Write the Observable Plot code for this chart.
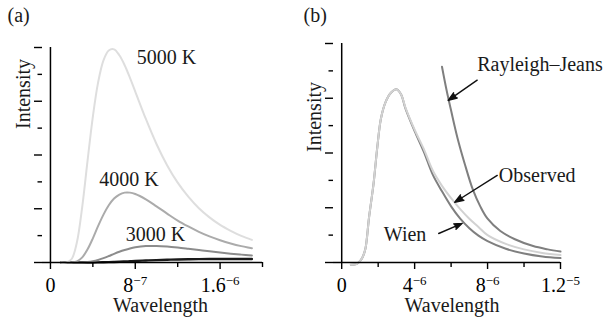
<!DOCTYPE html>
<html>
<head>
<meta charset="utf-8">
<script src="https://cdn.jsdelivr.net/npm/d3@7"></script>
<script src="https://cdn.jsdelivr.net/npm/@observablehq/plot@0.6"></script>
<style>
  html, body { margin: 0; padding: 0; background: #fff; }
  #c { display: flex; width: 609px; height: 321px; overflow: hidden; }
  #c svg { overflow: visible; }
  #c svg text { font-family: "Times New Roman", "Liberation Serif", "DejaVu Serif", "Noto Serif", Times, serif !important; }
</style>
</head>
<body>
<div id="c"></div>
<script>
// ---------- Panel (a): blackbody curves (wavelength in micrometres) ----------
const lambdaA = [0.1,0.15,0.2,0.25,0.3,0.35,0.4,0.45,0.5,0.55,0.6,0.65,0.7,0.75,0.8,0.9,1.0,1.1,1.2,1.3,1.4,1.5,1.6,1.7,1.8,1.9];
const i5000 = [0,0.005,0.13,0.76,2.08,3.79,5.43,6.71,7.52,7.89,7.93,7.71,7.34,6.87,6.36,5.34,4.41,3.62,2.97,2.45,2.02,1.68,1.40,1.18,0.99,0.84];
const i4000 = [0,0,0.004,0.043,0.19,0.49,0.90,1.36,1.78,2.13,2.38,2.53,2.60,2.60,2.55,2.35,2.09,1.82,1.56,1.34,1.14,0.97,0.83,0.71,0.61,0.53];
const i3000 = [0,0,0,0,0.003,0.016,0.045,0.094,0.162,0.24,0.323,0.40,0.466,0.522,0.564,0.611,0.617,0.595,0.557,0.511,0.463,0.415,0.371,0.330,0.293,0.259];
const iCool = [0,0,0,0,0,0,0.002,0.004,0.008,0.013,0.02,0.028,0.037,0.047,0.057,0.075,0.09,0.103,0.113,0.12,0.125,0.128,0.13,0.131,0.131,0.13];

const curveLabelsA = ["5000 K", "4000 K", "3000 K"];
const curveLabelXA = [1.094, 0.741, 0.991];
const curveLabelYA = [7.40, 2.86, 0.80];

const majorTicksA = [0, 0.8, 1.6];
const majorLabelsA = ["0", "8^−7", "1.6^−6"];
const minorTicksA = [0.4, 1.2, 2.0];

// ---------- Panel (b): observed vs. Wien vs. Rayleigh–Jeans ----------
const lambdaB = [0.5,0.8,1.0,1.15,1.3,1.5,1.75,1.95,2.15,2.4,2.7,3.0,3.25,3.5,4.0,4.5,5.0,5.5,6.0,6.5,7.0,7.5,8.0,9.0,10.0,11.0,12.0];
const observed = [-0.08,-0.06,0.05,0.2,0.5,1.65,2.9,4.2,5.25,5.85,6.2,6.33,6.15,5.65,4.85,4.15,3.35,2.8,2.35,1.95,1.6,1.3,1.0,0.68,0.48,0.35,0.27];
const wien = [-0.08,-0.06,0.05,0.2,0.5,1.65,2.9,4.2,5.25,5.85,6.2,6.33,6.15,5.62,4.8,4.05,3.2,2.6,2.05,1.6,1.25,0.98,0.78,0.5,0.33,0.22,0.16];
const lambdaRJ = [5.5,5.75,6.0,6.35,6.75,7.2,7.6,8.0,8.7,9.5,10.5,11.3,12.0];
const rayleighJeans = [7.15,6.3,5.55,4.55,3.6,2.65,2.05,1.6,1.15,0.85,0.6,0.48,0.4];

const curveLabelsB = ["Rayleigh–Jeans", "Observed", "Wien"];
const curveLabelXB = [7.43, 8.62, 2.31];
const curveLabelYB = [6.99, 2.93, 0.77];

const arrowX1 = [7.43, 8.53, 5.32];
const arrowY1 = [6.66, 3.18, 1.06];
const arrowX2 = [5.84, 6.2, 6.61];
const arrowY2 = [5.92, 2.2, 1.43];

const majorTicksB = [0, 4, 8, 12];
const majorLabelsB = ["0", "4^−6", "8^−6", "1.2^−5"];
const minorTicksB = [2, 6, 10];

const yMajor = [0, 2, 4, 6, 8];
const yMinor = [1, 3, 5, 7];

const FONT = "Times New Roman, Liberation Serif, DejaVu Serif, serif";

function axisMarks(majorTicks, majorLabels, minorTicks) {
  return [
    Plot.axisX(majorTicks, {tickSize: 7, tickPadding: 8, strokeWidth: 1.4, label: null,
      tickFormat: d => majorLabels[majorTicks.indexOf(d)], fontSize: 20, fontFamily: FONT}),
    Plot.axisX(minorTicks, {tickSize: 5, strokeWidth: 1.4, label: null, tickFormat: () => ""}),
    Plot.axisY(yMajor, {tickSize: 8, strokeWidth: 1.4, label: null, tickFormat: () => ""}),
    Plot.axisY(yMinor, {tickSize: 4.5, strokeWidth: 1.4, label: null, tickFormat: () => ""}),
    Plot.ruleY([0], {strokeWidth: 1.5}),
    Plot.ruleX([0], {strokeWidth: 1.5})
  ];
}

const txt = {fontSize: 20, fontFamily: FONT, lineAnchor: "bottom", fill: "#1a1a1a"};

const panelA = Plot.plot({
  width: 300, height: 321,
  marginLeft: 42, marginRight: 38, marginTop: 47, marginBottom: 59,
  x: {domain: [-0.075, 2.0], axis: null},
  y: {domain: [0, 8], axis: null},
  style: {fontFamily: FONT, fontSize: "20px", background: "white", color: "black", overflow: "visible"},
  marks: [
    Plot.lineY(iCool, {x: lambdaA, stroke: "#1a1a1a", strokeWidth: 2.4, curve: "catmull-rom"}),
    Plot.lineY(i3000, {x: lambdaA, stroke: "#8c8c8c", strokeWidth: 2, curve: "catmull-rom"}),
    Plot.lineY(i4000, {x: lambdaA, stroke: "#ababab", strokeWidth: 2, curve: "catmull-rom"}),
    Plot.lineY(i5000, {x: lambdaA, stroke: "#dedede", strokeWidth: 2, curve: "catmull-rom"}),
    ...axisMarks(majorTicksA, majorLabelsA, minorTicksA),
    Plot.text(curveLabelsA, {x: curveLabelXA, y: curveLabelYA, text: d => d, ...txt}),
    Plot.text(["Intensity"], {frameAnchor: "left", rotate: -90, dx: -12.5, dy: -26, ...txt}),
    Plot.text(["Wavelength"], {frameAnchor: "bottom", dx: 8, dy: 49, ...txt}),
    Plot.text(["(a)"], {frameAnchor: "top-left", dx: -35, dy: -26, textAnchor: "start", ...txt})
  ]
});

const panelB = Plot.plot({
  width: 309, height: 321,
  marginLeft: 33, marginRight: 49, marginTop: 43, marginBottom: 59,
  x: {domain: [-0.45, 12], axis: null},
  y: {domain: [0, 8], axis: null},
  style: {fontFamily: FONT, fontSize: "20px", background: "white", color: "black", overflow: "visible"},
  marks: [
    Plot.lineY(wien, {x: lambdaB, stroke: "#7f7f7f", strokeWidth: 2, curve: "catmull-rom"}),
    Plot.lineY(observed, {x: lambdaB, stroke: "#d2d2d2", strokeWidth: 2, curve: "catmull-rom"}),
    Plot.lineY(rayleighJeans, {x: lambdaRJ, stroke: "#7f7f7f", strokeWidth: 2, curve: "catmull-rom"}),
    ...axisMarks(majorTicksB, majorLabelsB, minorTicksB),
    Plot.arrow(arrowX1, {x1: arrowX1, y1: arrowY1, x2: arrowX2, y2: arrowY2, stroke: "#111", fill: "#111", strokeWidth: 1.4, headLength: 10, headAngle: 40}),
    Plot.text(curveLabelsB, {x: curveLabelXB, y: curveLabelYB, text: d => d, textAnchor: "start", ...txt}),
    Plot.text(["Intensity"], {frameAnchor: "left", rotate: -90, dx: -13, dy: -1, ...txt}),
    Plot.text(["Wavelength"], {frameAnchor: "bottom", dx: 5, dy: 49, ...txt}),
    Plot.text(["(b)"], {frameAnchor: "top-left", dx: -30, dy: -22, textAnchor: "start", ...txt})
  ]
});

// turn "8^−7" style tick labels into base + superscript
function superscripts(svg) {
  const ns = "http://www.w3.org/2000/svg";
  svg.querySelectorAll("text").forEach(t => {
    const s = t.textContent;
    if (s.includes("^") && t.children.length === 0) {
      const [base, exp] = s.split("^");
      t.textContent = base;
      const sup = document.createElementNS(ns, "tspan");
      sup.setAttribute("dy", "-7");
      sup.setAttribute("font-size", "13");
      sup.textContent = exp;
      t.appendChild(sup);
    }
  });
}
superscripts(panelA);
superscripts(panelB);

const c = document.getElementById("c");
c.appendChild(panelA);
c.appendChild(panelB);
</script>
</body>
</html>
